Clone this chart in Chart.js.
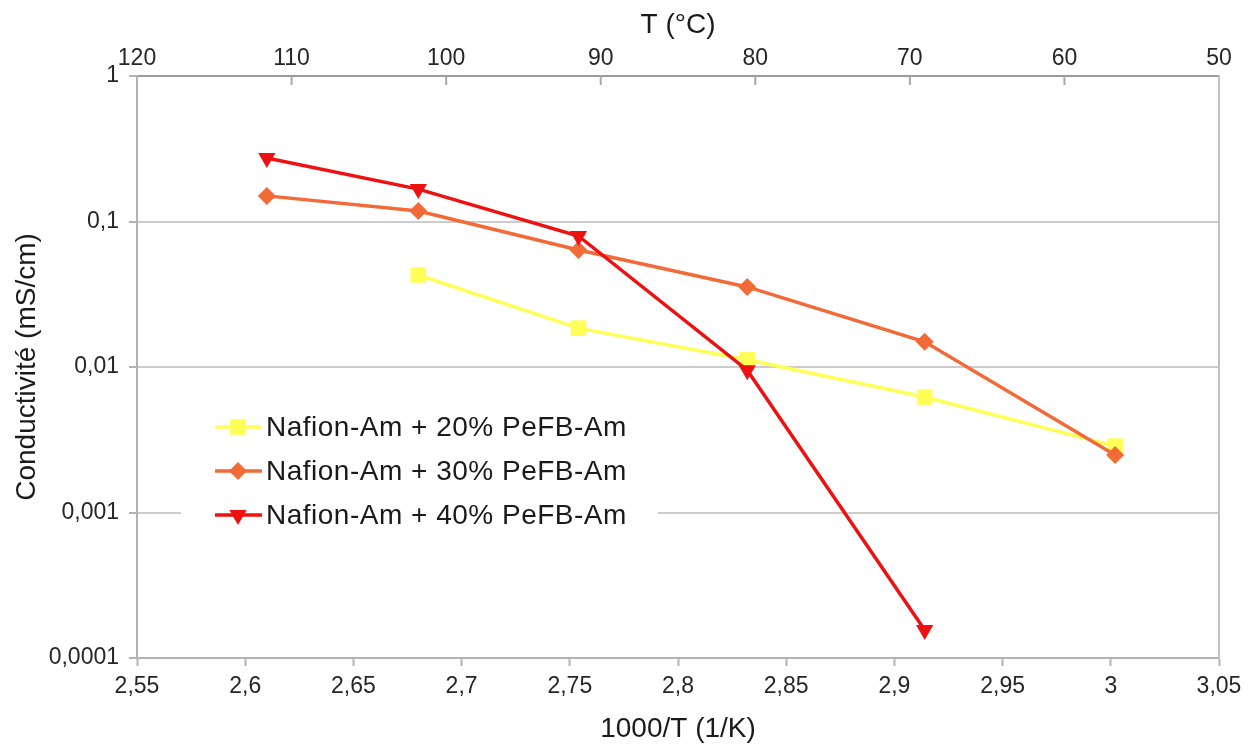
<!DOCTYPE html>
<html><head><meta charset="utf-8">
<script src="https://cdn.jsdelivr.net/npm/chart.js@4.4.1/dist/chart.umd.min.js"></script>
<style>html,body{margin:0;padding:0;background:#fff;}#wrap{width:1252px;height:744px;}</style>
</head><body><div id="wrap"><canvas id="c" width="1252" height="744"></canvas></div>
<script>
// ---- data ----
const seriesLabels = ['Nafion-Am + 20% PeFB-Am', 'Nafion-Am + 30% PeFB-Am', 'Nafion-Am + 40% PeFB-Am'];
const seriesColors = ['#ffff55', '#f26a38', '#ee1111'];
const invT20 = [2.680, 2.754, 2.832, 2.914, 3.002];
const sigma20 = [0.0429, 0.0185, 0.0112, 0.00622, 0.00286];
const invT30 = [2.610, 2.680, 2.754, 2.832, 2.914, 3.002];
const sigma30 = [0.150, 0.118, 0.0637, 0.0355, 0.0149, 0.00248];
const invT40 = [2.610, 2.680, 2.754, 2.832, 2.914];
const sigma40 = [0.273, 0.167, 0.0795, 0.0095, 0.000156];
const xTickValues = [2.55, 2.6, 2.65, 2.7, 2.75, 2.8, 2.85, 2.9, 2.95, 3.0, 3.05];
const xTickLabels = ['2,55', '2,6', '2,65', '2,7', '2,75', '2,8', '2,85', '2,9', '2,95', '3', '3,05'];
const tTickValues = [120, 110, 100, 90, 80, 70, 60, 50];
const tTickLabels = ['120', '110', '100', '90', '80', '70', '60', '50'];
const yTickValues = [0.0001, 0.001, 0.01, 0.1, 1];
const yTickLabels = ['0,0001', '0,001', '0,01', '0,1', '1'];

const FONT = "'Liberation Sans', Arial, sans-serif";
const toPts = (xs, ys) => xs.map((x, i) => ({x: x, y: ys[i]}));
const labelFor = (vals, labs) => (v) => {
  let best = 0, bd = Infinity;
  vals.forEach((t, i) => { const d = Math.abs(Math.log(Math.abs(t) + 1e-12) - Math.log(Math.abs(v) + 1e-12)); if (d < bd) { bd = d; best = i; } });
  return labs[best];
};

const pointDefs = [
  {pointStyle: 'rect', rotation: 0, radius: 11},
  {pointStyle: 'rectRot', rotation: 0, radius: 9},
  {pointStyle: 'triangle', rotation: 180, radius: 10}
];
const seriesX = [invT20, invT30, invT40];
const seriesY = [sigma20, sigma30, sigma40];

const datasets = seriesLabels.map((lab, i) => ({
  label: lab,
  data: toPts(seriesX[i], seriesY[i]),
  borderColor: seriesColors[i],
  backgroundColor: seriesColors[i],
  pointBackgroundColor: seriesColors[i],
  pointBorderColor: seriesColors[i],
  pointBorderWidth: 0,
  borderWidth: 3.5,
  pointStyle: pointDefs[i].pointStyle,
  pointRotation: pointDefs[i].rotation,
  pointRadius: pointDefs[i].radius,
  pointHoverRadius: pointDefs[i].radius,
  tension: 0,
  xAxisID: 'x',
  yAxisID: 'y',
  order: 3 - i
}));

function drawMarker(ctx, def, x, y, color) {
  ctx.fillStyle = color; ctx.strokeStyle = color;
  if (window.Chart && Chart.helpers && Chart.helpers.drawPoint) {
    Chart.helpers.drawPoint(ctx, {pointStyle: def.pointStyle, rotation: def.rotation, radius: def.radius, borderWidth: 0}, x, y);
    return;
  }
  ctx.beginPath();
  const r = def.radius;
  if (def.pointStyle === 'rect') { const s = r * Math.SQRT1_2; ctx.rect(x - s, y - s, 2 * s, 2 * s); }
  else if (def.pointStyle === 'rectRot') { ctx.moveTo(x - r, y); ctx.lineTo(x, y - r); ctx.lineTo(x + r, y); ctx.lineTo(x, y + r); ctx.closePath(); }
  else { ctx.moveTo(x, y + r); ctx.lineTo(x - 0.866 * r, y - 0.5 * r); ctx.lineTo(x + 0.866 * r, y - 0.5 * r); ctx.closePath(); }
  ctx.fill();
}

const overlay = {
  id: 'overlay',
  afterDraw(chart) {
    const ctx = chart.ctx, ca = chart.chartArea;
    const top = chart.scales.xTop;
    ctx.save();
    // inward tick marks of the top (°C) axis
    ctx.strokeStyle = '#a8a8a8'; ctx.lineWidth = 2;
    tTickValues.forEach(v => {
      const px = top.getPixelForValue(v);
      if (px <= ca.left + 1 || px >= ca.right - 1) return;
      ctx.beginPath(); ctx.moveTo(px, ca.top); ctx.lineTo(px, ca.top + 9); ctx.stroke();
    });
    // legend inside the plot
    const lx = ca.left + 44, ly = ca.top + 326;
    ctx.fillStyle = '#ffffff';
    ctx.fillRect(lx, ly, 477, 138);
    const rows = [ly + 25, ly + 69, ly + 113];
    chart.data.datasets.forEach((ds, i) => {
      const y = rows[i];
      ctx.strokeStyle = ds.borderColor; ctx.lineWidth = 3.5;
      ctx.beginPath(); ctx.moveTo(lx + 34, y); ctx.lineTo(lx + 81, y); ctx.stroke();
      drawMarker(ctx, pointDefs[i], lx + 57, y, ds.borderColor);
      ctx.fillStyle = '#1a1a1a';
      ctx.font = '28px ' + FONT;
      ctx.textBaseline = 'middle'; ctx.textAlign = 'left';
      try { ctx.letterSpacing = '0.5px'; } catch (e) {}
      ctx.fillText(ds.label, lx + 85, y + 1);
    });
    ctx.restore();
  }
};

const tickFont = {family: FONT, size: 23};
const titleFont = {family: FONT, size: 28, lineHeight: 1};

new Chart(document.getElementById('c'), {
  type: 'line',
  data: {datasets: datasets},
  options: {
    responsive: false,
    animation: false,
    layout: {padding: 0},
    plugins: {legend: {display: false}, tooltip: {enabled: false}},
    scales: {
      x: {
        type: 'linear', axis: 'x', position: 'bottom', min: 2.55, max: 3.05,
        afterBuildTicks: s => { s.ticks = xTickValues.map(v => ({value: v})); },
        afterFit: s => { s.height = 86; },
        ticks: {callback: labelFor(xTickValues, xTickLabels), font: tickFont, color: '#262626', padding: 7, maxRotation: 0, autoSkip: false},
        grid: {drawOnChartArea: false, drawTicks: true, tickLength: 8, tickColor: '#b3b3b3', tickWidth: 2},
        border: {display: true, color: '#b3b3b3', width: 2},
        title: {display: true, text: '1000/T (1/K)', font: titleFont, color: '#1a1a1a', padding: {top: 0, bottom: 1}}
      },
      xTop: {
        type: 'linear', axis: 'x', position: 'top', min: 50, max: 120, reverse: true,
        afterBuildTicks: s => { s.ticks = tTickValues.map(v => ({value: v})); },
        afterFit: s => { s.height = 76; },
        ticks: {callback: labelFor(tTickValues, tTickLabels), font: tickFont, color: '#262626', padding: 4, maxRotation: 0, autoSkip: false},
        grid: {display: false, drawOnChartArea: false, drawTicks: false},
        border: {display: true, color: '#9a9a9a', width: 2},
        title: {display: true, text: 'T (°C)', font: titleFont, color: '#1a1a1a', padding: {top: 11, bottom: 0}}
      },
      y: {
        type: 'logarithmic', axis: 'y', position: 'left', min: 0.0001, max: 1,
        afterBuildTicks: s => { s.ticks = yTickValues.map(v => ({value: v})); },
        afterFit: s => { s.width = 137; },
        ticks: {callback: labelFor(yTickValues, yTickLabels), font: tickFont, color: '#262626', padding: 10, autoSkip: false},
        grid: {drawOnChartArea: true, color: '#cccccc', lineWidth: 2, drawTicks: true, tickLength: 8, tickColor: '#b3b3b3', tickWidth: 2},
        border: {display: true, color: '#b3b3b3', width: 2},
        title: {display: true, text: 'Conductivité (mS/cm)', font: titleFont, color: '#1a1a1a', padding: {top: 13, bottom: 0}}
      },
      y2: {
        type: 'linear', axis: 'y', position: 'right', min: 0, max: 1,
        afterFit: s => { s.width = 33; },
        ticks: {display: false},
        grid: {display: false, drawOnChartArea: false, drawTicks: false},
        border: {display: true, color: '#c0c0c0', width: 2}
      }
    }
  },
  plugins: [overlay]
});
</script>
</body></html>
